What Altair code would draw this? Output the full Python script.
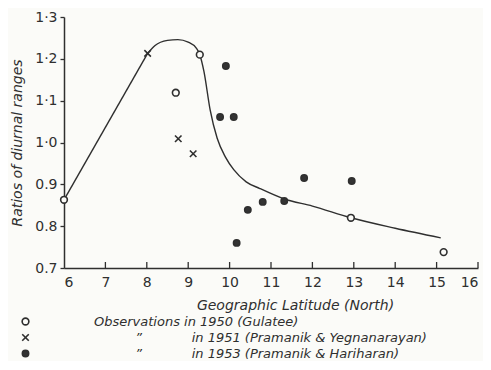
import altair as alt
import pandas as pd

# --- data ---
obs1950_lat = [6.0, 8.7, 9.28, 12.93, 15.17]
obs1950_ratio = [0.863, 1.119, 1.21, 0.82, 0.738]
obs1951_lat = [8.02, 8.76, 9.12]
obs1951_ratio = [1.213, 1.009, 0.973]
obs1953_lat = [9.77, 9.91, 10.1, 10.17, 10.44, 10.8, 11.32, 11.8, 12.95]
obs1953_ratio = [1.061, 1.183, 1.061, 0.76, 0.839, 0.858, 0.86, 0.915, 0.908]

# straight part of the fitted line
straight_lat = [6.0, 8.02]
straight_ratio = [0.863, 1.213]
# smooth part of the fitted line
curve_lat = [8.02, 8.2, 8.5, 8.75, 9.0, 9.2, 9.28, 9.38, 9.53, 9.7, 9.9,
             10.1, 10.4, 10.73, 11.32, 12.0, 12.93, 14.0, 15.1]
curve_ratio = [1.213, 1.232, 1.244, 1.246, 1.24, 1.225, 1.21, 1.17, 1.078,
               1.01, 0.965, 0.935, 0.906, 0.89, 0.865, 0.848, 0.82, 0.795, 0.772]

x_ticks = [6, 7, 8, 9, 10, 11, 12, 13, 14, 15, 16]
y_ticks = [0.7, 0.8, 0.9, 1.0, 1.1, 1.2, 1.3]

NB = "\u00a0"
ZW = "\u200b"
series_labels = [
    "Observations in 1950 (Gulatee)",
    ZW + NB * 10 + "\u201d" + NB * 12 + "in 1951 (Pramanik & Yegnanarayan)",
    ZW + NB * 10 + "\u201d" + NB * 12 + "in 1953 (Pramanik & Hariharan)",
]

ink = "#2f2f2f"
paper = "#fbfbf8"
font = "DejaVu Sans"

rows = []
for lat, r in zip(obs1950_lat, obs1950_ratio):
    rows.append({"lat": lat, "ratio": r, "series": series_labels[0]})
for lat, r in zip(obs1951_lat, obs1951_ratio):
    rows.append({"lat": lat, "ratio": r, "series": series_labels[1]})
for lat, r in zip(obs1953_lat, obs1953_ratio):
    rows.append({"lat": lat, "ratio": r, "series": series_labels[2]})
points_df = pd.DataFrame(rows)
straight_df = pd.DataFrame({"lat": straight_lat, "ratio": straight_ratio})
curve_df = pd.DataFrame({"lat": curve_lat, "ratio": curve_ratio})
xt_df = pd.DataFrame({"t": x_ticks[1:]})

xscale = alt.Scale(domain=[6, 16], nice=False, zero=False)
yscale = alt.Scale(domain=[0.7, 1.3], nice=False, zero=False)

x_enc = alt.X(
    "lat:Q", scale=xscale,
    axis=alt.Axis(values=x_ticks, title="Geographic Latitude (North)", ticks=False,
                  labelPadding=7, titlePadding=9, titleX=231, grid=False),
)
y_enc = alt.Y(
    "ratio:Q", scale=yscale,
    axis=alt.Axis(values=y_ticks, title="Ratios of diurnal ranges", tickSize=4,
                  labelPadding=3, titlePadding=10, grid=False,
                  labelExpr="datum.value >= 1 ? replace(format(datum.value, '.1f'), '.', '\u00b7') : format(datum.value, '.1f')"),
)

straight = alt.Chart(straight_df).mark_line(color=ink, strokeWidth=1.4).encode(x=x_enc, y=y_enc)

curve = alt.Chart(curve_df).mark_line(
    interpolate="monotone", color=ink, strokeWidth=1.4
).encode(x=alt.X("lat:Q", scale=xscale), y=alt.Y("ratio:Q", scale=yscale))

xticks_layer = alt.Chart(xt_df).mark_rule(color=ink, strokeWidth=1.3).encode(
    x=alt.X("t:Q", scale=xscale), y=alt.value(251), y2=alt.value(245)
)

cross_path = "M-1,-1L1,1M-1,1L1,-1"
pts = alt.Chart(points_df).mark_point(
    strokeWidth=1.6, opacity=1, strokeOpacity=1, fillOpacity=1
).encode(
    x=alt.X("lat:Q", scale=xscale),
    y=alt.Y("ratio:Q", scale=yscale),
    shape=alt.Shape("series:N", title=None,
                    scale=alt.Scale(domain=series_labels, range=["circle", cross_path, "circle"])),
    fill=alt.Fill("series:N", title=None,
                  scale=alt.Scale(domain=series_labels, range=[paper, "transparent", "#333333"])),
    stroke=alt.Stroke("series:N", title=None,
                      scale=alt.Scale(domain=series_labels, range=[ink, ink, ink])),
    size=alt.Size("series:N", title=None,
                  scale=alt.Scale(domain=series_labels, range=[45, 40, 80])),
)

chart = alt.layer(straight, curve, xticks_layer, pts).properties(
    width=414, height=251,
    autosize=alt.AutoSizeParams(type="none"),
    padding={"left": 56, "top": 9, "right": 5, "bottom": 93},
    background=paper,
).configure_view(stroke=None).configure_axis(
    domainColor=ink, domainWidth=1.5, tickColor=ink, tickWidth=1.3,
    labelColor=ink, labelFont=font, labelFontSize=14,
    titleColor=ink, titleFont=font, titleFontSize=14, titleFontStyle="italic",
    titleFontWeight="normal",
).configure_legend(
    orient="none", legendX=-45, legendY=298, labelFont=font, labelFontSize=13,
    labelFontStyle="italic", labelColor=ink, labelOffset=62, rowPadding=2,
    symbolStrokeWidth=1.6, labelLimit=0,
)

chart.save("out.html", embed_options={"renderer": "svg", "actions": False})
